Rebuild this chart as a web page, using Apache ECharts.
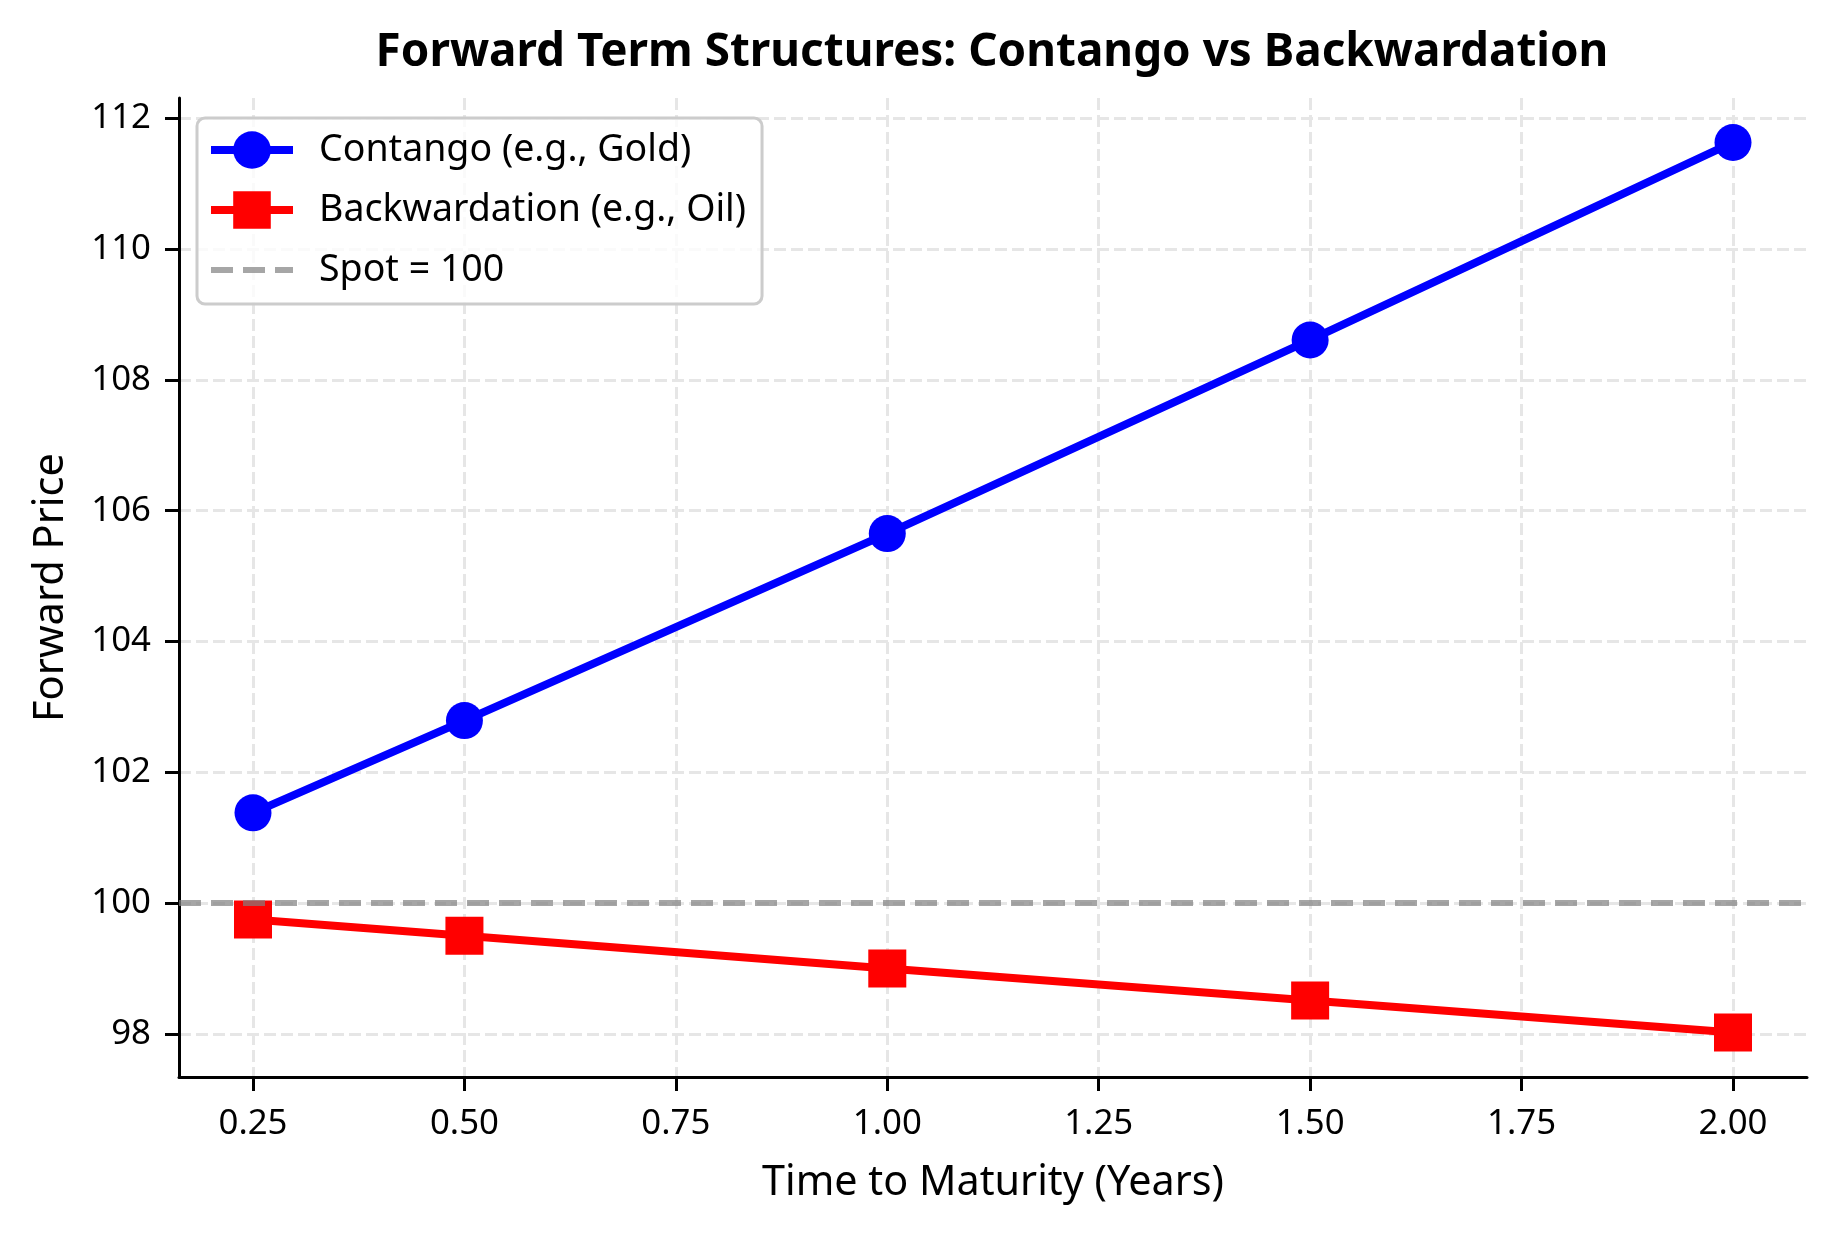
<!DOCTYPE html>
<html>
<head>
<meta charset="utf-8">
<script src="https://cdn.jsdelivr.net/npm/echarts@6/dist/echarts.min.js"></script>
<style>
html,body{margin:0;padding:0;background:#fff;}
#chart{width:1834px;height:1234px;}
</style>
</head>
<body>
<div id="chart"></div>
<script>
// ---- data ----
const maturities = [0.25, 0.5, 1.0, 1.5, 2.0];
const contango = [101.38, 102.79, 105.65, 108.61, 111.63];
const backwardation = [99.75, 99.50, 99.00, 98.51, 98.02];
const spotPrice = 100;
const xTicks = [0.25, 0.5, 0.75, 1.0, 1.25, 1.5, 1.75, 2.0];
const yTicks = [98, 100, 102, 104, 106, 108, 110, 112];
const seriesNames = ['Contango (e.g., Gold)', 'Backwardation (e.g., Oil)', 'Spot = 100'];
const titleText = 'Forward Term Structures: Contango vs Backwardation';
const xName = 'Time to Maturity (Years)';
const yName = 'Forward Price';

// ---- font fitting ----
const FONT = '"Noto Sans", "DejaVu Sans", sans-serif';
const cv = document.createElement('canvas').getContext('2d');
function fit(text, target, weight) {
  cv.font = (weight || 'normal') + ' 100px ' + FONT;
  return 100 * target / cv.measureText(text).width;
}
const titleSize = fit(titleText, 1233, 'bold');
const xNameSize = fit(xName, 462);
const yNameSize = fit(yName, 269);
const tickSize = fit('0.25', 69);
const legendSize = (fit(seriesNames[0], 369) + fit(seriesNames[1], 431)) / 2;

const zip = (xs, ys) => xs.map((x, i) => [x, ys[i]]);
const spotStyle = {color: 'rgba(128,128,128,0.7)', width: 6, type: [22, 10]};

const chart = echarts.init(document.getElementById('chart'), null, {renderer: 'canvas'});
chart.setOption({
  animation: false,
  backgroundColor: '#ffffff',
  textStyle: {fontFamily: FONT},
  title: {
    text: titleText,
    left: 987,
    textAlign: 'center',
    top: 25,
    textStyle: {fontFamily: FONT, fontWeight: 'bold', fontSize: titleSize, color: '#000'}
  },
  grid: {left: 179, right: 27, top: 98, bottom: 157, containLabel: false},
  legend: {
    orient: 'vertical',
    left: 197,
    top: 118,
    data: [
      {name: seriesNames[0]},
      {name: seriesNames[1]},
      {name: seriesNames[2], itemStyle: {opacity: 0}, lineStyle: {width: 6, type: [22, 10], color: 'rgba(128,128,128,0.7)'}}
    ],
    itemWidth: 82,
    itemHeight: 47,
    itemGap: 22,
    padding: [13, 16, 15, 10],
    backgroundColor: 'rgba(255,255,255,0.8)',
    borderColor: '#cccccc',
    borderWidth: 3,
    borderRadius: 8,
    selectedMode: false,
    lineStyle: {width: 'inherit'},
    textStyle: {fontFamily: FONT, fontSize: legendSize, color: '#000', padding: [0, 0, 0, 21]}
  },
  xAxis: {
    type: 'value',
    min: 0.1625,
    max: 2.0875,
    name: xName,
    nameLocation: 'middle',
    nameGap: 86,
    nameTextStyle: {fontFamily: FONT, fontSize: xNameSize, color: '#000'},
    axisLine: {show: true, onZero: false, lineStyle: {color: '#000', width: 3}},
    axisTick: {show: true, length: 14, lineStyle: {color: '#000', width: 3}, customValues: xTicks},
    axisLabel: {show: true, margin: 30, fontFamily: FONT, fontSize: tickSize, color: '#000',
      customValues: xTicks, formatter: v => Number(v).toFixed(2)},
    splitLine: {show: true, lineStyle: {color: '#e6e6e6', width: 3, type: [12, 5]}}
  },
  yAxis: {
    type: 'value',
    min: 97.34,
    max: 112.31,
    name: yName,
    nameLocation: 'middle',
    nameGap: 107,
    nameRotate: 90,
    nameTextStyle: {fontFamily: FONT, fontSize: yNameSize, color: '#000'},
    axisLine: {show: true, onZero: false, lineStyle: {color: '#000', width: 3}},
    axisTick: {show: true, length: 14, lineStyle: {color: '#000', width: 3}, customValues: yTicks},
    axisLabel: {show: true, margin: 28, fontFamily: FONT, fontSize: tickSize, color: '#000',
      customValues: yTicks, formatter: v => String(Math.round(v))},
    splitLine: {show: true, lineStyle: {color: '#e6e6e6', width: 3, type: [12, 5]}}
  },
  series: [
    {
      name: seriesNames[0],
      type: 'line',
      data: zip(maturities, contango),
      symbol: 'circle',
      symbolSize: 37,
      lineStyle: {color: '#0000ff', width: 8},
      itemStyle: {color: '#0000ff'},
      emphasis: {disabled: true},
      z: 3
    },
    {
      name: seriesNames[1],
      type: 'line',
      data: zip(maturities, backwardation),
      symbol: 'rect',
      symbolSize: 38,
      lineStyle: {color: '#ff0000', width: 8},
      itemStyle: {color: '#ff0000'},
      emphasis: {disabled: true},
      z: 3
    },
    {
      name: seriesNames[2],
      type: 'line',
      data: [],
      symbol: 'none',
      lineStyle: spotStyle,
      itemStyle: {color: spotStyle.color},
      z: 5,
      markLine: {
        silent: true,
        symbol: 'none',
        label: {show: false},
        lineStyle: spotStyle,
        emphasis: {disabled: true},
        data: [{yAxis: spotPrice}]
      }
    }
  ]
});
</script>
</body>
</html>
